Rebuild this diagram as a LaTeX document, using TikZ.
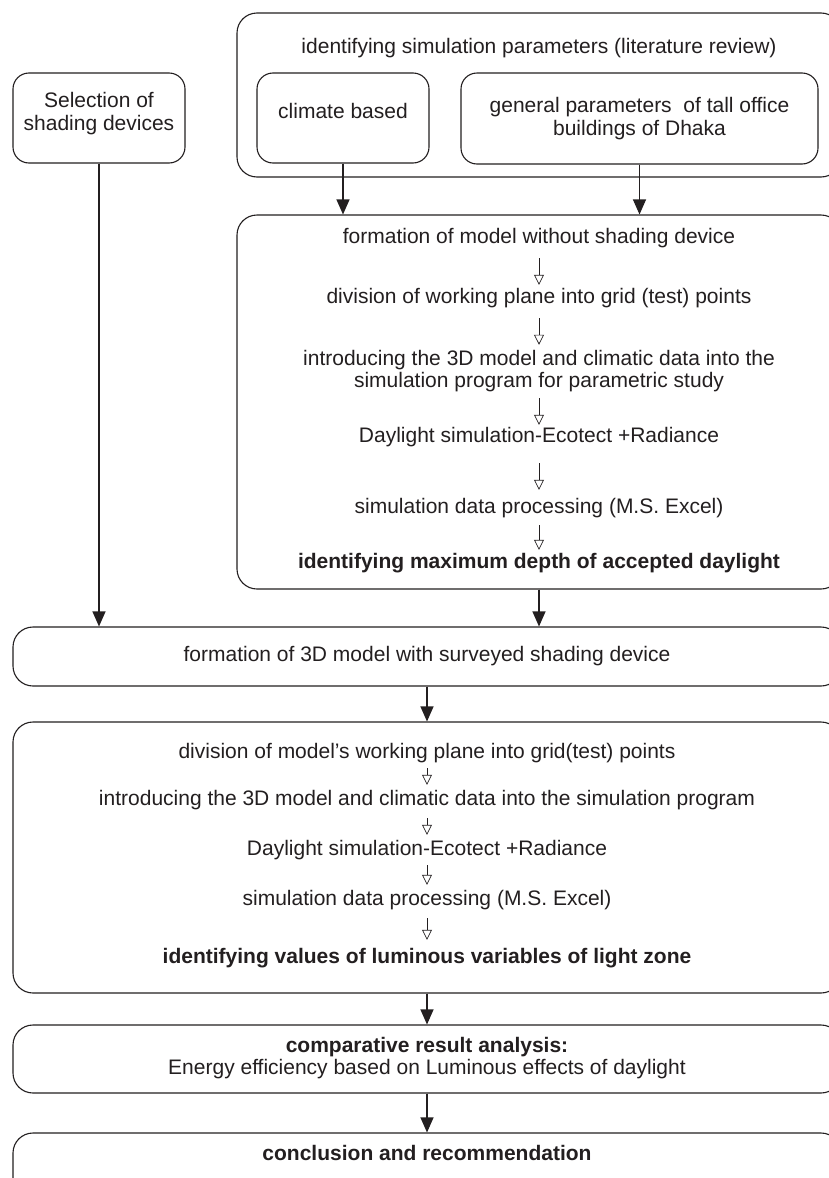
\documentclass[tikz,border=0pt]{standalone}
\usepackage{fontspec}
\setmainfont{Liberation Sans}
\usetikzlibrary{arrows.meta}
\definecolor{ink}{RGB}{35,31,32}
\begin{document}
\begin{tikzpicture}[x=1pt,y=-1pt,
  box/.style={draw=ink, line width=1.1pt, rounded corners=20pt, inner sep=0pt},
  sbox/.style={box, rounded corners=16pt},
  t/.style={font=\fontsize{21}{22.5}\selectfont, text=ink, inner sep=0pt, text height=15pt, text depth=5pt},
  tt/.style={font=\fontsize{21}{22.5}\selectfont, text=ink, inner sep=0pt, align=center},
  bigarrow/.style={draw=ink, fill=ink, line width=1.1pt, -{Triangle[length=15pt,width=13pt]}},
  smallarrow/.style={draw=ink, line width=0.7pt, -{Triangle[open,length=10pt,width=10pt]}}
]
\clip (0,0) rectangle (829,1178);
\fill[white] (0,0) rectangle (829,1178);

% boxes
\node[box, minimum width=604pt, minimum height=164pt] (outer) at (539,95) {};
\node[sbox, minimum width=172pt, minimum height=90pt] (climate) at (343,118) {};
\node[sbox, minimum width=357pt, minimum height=91pt] (general) at (639.5,118.5) {};
\node[sbox, minimum width=172pt, minimum height=90pt] (selection) at (99,118) {};
\node[box, minimum width=604pt, minimum height=374pt] (middle) at (539,402) {};
\node[box, minimum width=828pt, minimum height=59pt] (formation) at (427,656.5) {};
\node[box, minimum width=828pt, minimum height=271pt] (big) at (427,857.5) {};
\node[box, minimum width=828pt, minimum height=68pt] (comparative) at (427,1059) {};
\node[box, minimum width=828pt, minimum height=67pt] (conclusion) at (427,1166.5) {};

% texts top
\node[t] (title) at (539,48) {identifying simulation parameters (literature review)};
\node[t] (climatetxt) at (343,113) {climate based};
\node[tt] (generaltxt) at (639.5,118.5) {general parameters\ \ of tall office\\buildings of Dhaka};
\node[tt] (selectiontxt) at (99,113.5) {Selection of\\shading devices};

% middle texts
\node[t] (m1) at (539,238) {formation of model without shading device};
\node[t] (m2) at (539,298) {division of working plane into grid (test) points};
\node[tt] (m3) at (539,371) {introducing the 3D model and climatic data into the\\simulation program for parametric study};
\node[t] (m4) at (539,437) {Daylight simulation-Ecotect +Radiance};
\node[t] (m5) at (539,508) {simulation data processing (M.S. Excel)};
\node[t, font=\fontsize{21}{22.5}\selectfont\bfseries] (m6) at (539,563) {identifying maximum depth of accepted daylight};

% formation text
\node[t] (ftxt) at (427,656) {formation of 3D model with surveyed shading device};

% big box texts
\node[t] (b1) at (427,753) {division of model's working plane into grid(test) points};
\node[t] (b2) at (427,800) {introducing the 3D model and climatic data into the simulation program};
\node[t] (b3) at (427,850) {Daylight simulation-Ecotect +Radiance};
\node[t] (b4) at (427,900) {simulation data processing (M.S. Excel)};
\node[t, font=\fontsize{21}{22.5}\selectfont\bfseries] (b5) at (427,958) {identifying values of luminous variables of light zone};

% comparative / conclusion
\node[tt] (ctxt) at (427,1058) {{\bfseries comparative result analysis:}\\Energy efficiency based on Luminous effects of daylight};
\node[t, font=\fontsize{21}{22.5}\selectfont\bfseries] (cotxt) at (427,1155) {conclusion and recommendation};

% big connectors
\draw[bigarrow] (climate.south) -- (climate.south |- middle.north);
\draw[bigarrow] (general.south) -- (general.south |- middle.north);
\draw[bigarrow] (selection.south) -- (selection.south |- formation.north);
\draw[bigarrow] (middle.south) -- (middle.south |- formation.north);
\draw[bigarrow] (formation.south) -- (big.north);
\draw[bigarrow] (big.south) -- (comparative.north);
\draw[bigarrow] (comparative.south) -- (conclusion.north);

% small connectors (middle)
\draw[smallarrow, shorten <=10pt, shorten >=3pt] (m1) -- (m2);
\draw[smallarrow, shorten <=10pt, shorten >=5pt] (m2) -- (m3);
\draw[smallarrow, shorten <=6pt, shorten >=2pt] (m3) -- (m4);
\draw[smallarrow, shorten <=16pt, shorten >=8pt] (m4) -- (m5);
\draw[smallarrow, shorten <=7pt, shorten >=3pt] (m5) -- (m6);

% small connectors (big box)
\draw[smallarrow, shorten <=5pt, shorten >=5pt] (b1) -- (b2);
\draw[smallarrow, shorten <=8pt, shorten >=5pt] (b2) -- (b3);
\draw[smallarrow, shorten <=5pt, shorten >=5pt] (b3) -- (b4);
\draw[smallarrow, shorten <=8pt, shorten >=8pt] (b4) -- (b5);
\end{tikzpicture}
\end{document}
